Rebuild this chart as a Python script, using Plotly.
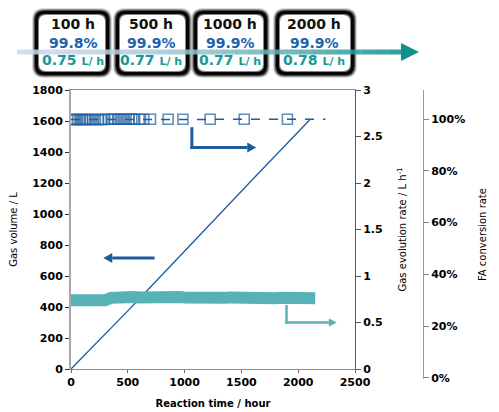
import plotly.graph_objects as go

# ---------------- data ----------------
vol_time = [0, 100, 200, 300, 400, 500, 600, 700, 800, 900, 1000, 1100,
            1200, 1300, 1400, 1500, 1600, 1700, 1800, 1900, 2000, 2100]
vol_L = [0, 74, 148, 222, 298, 375, 452, 530, 607, 684, 762, 839,
         916, 993, 1070, 1147, 1224, 1300, 1377, 1454, 1530, 1606]

conv_time = [0, 20, 40, 60, 80, 100, 120, 140, 165, 190, 215, 240, 265,
             290, 330, 360, 385, 410, 435, 460, 485, 510, 535, 560, 600,
             640, 700, 855, 985, 1225, 1525, 1905, 2240]
conv_frac = [0.998, 0.998, 0.998, 0.998, 0.998, 0.998, 0.998, 0.998, 0.998,
             0.998, 0.998, 0.998, 0.998, 0.998, 0.999, 0.999, 0.999, 0.999,
             0.999, 0.999, 0.999, 0.999, 0.999, 0.999, 0.999, 0.999, 0.999,
             0.999, 0.999, 0.999, 0.999, 0.999, 0.999]

rate_time = [0, 50, 100, 150, 200, 250, 300, 350, 400, 450, 500, 550, 600,
             650, 700, 750, 800, 850, 900, 950, 1000, 1050, 1100, 1150, 1200,
             1250, 1300, 1350, 1400, 1450, 1500, 1550, 1600, 1650, 1700, 1750,
             1800, 1850, 1900, 1950, 2000, 2050, 2100, 2150]
rate_Lh = [0.74, 0.735, 0.735, 0.74, 0.73, 0.73, 0.74, 0.765, 0.775, 0.775,
           0.77, 0.775, 0.77, 0.775, 0.78, 0.775, 0.77, 0.775, 0.77, 0.775,
           0.77, 0.765, 0.765, 0.77, 0.765, 0.77, 0.765, 0.765, 0.77, 0.765,
           0.765, 0.765, 0.77, 0.765, 0.765, 0.76, 0.76, 0.765, 0.76, 0.76,
           0.765, 0.76, 0.76, 0.76]

x_ticks = [0, 500, 1000, 1500, 2000, 2500]
conv_ticks = [0, 0.2, 0.4, 0.6, 0.8, 1.0]

banner_hours = ["100 h", "500 h", "1000 h", "2000 h"]
banner_conv = ["99.8%", "99.9%", "99.9%", "99.9%"]
banner_rate = ["0.75", "0.77", "0.77", "0.78"]

# ---------------- style ----------------
BLUE = "#1F5C9C"
TEAL = "#57B2B6"
FONT = "DejaVu Sans"

OFF = 8  # page body margin
W, H = 491, 404
ML, MR, MT, MB = 63, 10, 82, 33
PW, PH = W - ML - MR, H - MT - MB


def PX(px):  # screen px -> paper x
    return (px - OFF - ML) / PW


def PY(py):  # screen px -> paper y
    return (H - MB - (py - OFF)) / PH


fig = go.Figure()

fig.add_trace(go.Scatter(x=rate_time, y=rate_Lh, yaxis="y2", mode="lines",
                         line=dict(color=TEAL, width=12), showlegend=False))
fig.add_trace(go.Scatter(x=vol_time, y=vol_L, yaxis="y", mode="lines",
                         line=dict(color=BLUE, width=1.3), showlegend=False))
msize = [10] * (len(conv_time) - 1) + [0]
fig.add_trace(go.Scatter(x=conv_time, y=conv_frac, yaxis="y3", mode="lines+markers",
                         line=dict(color=BLUE, width=1.5, dash="dash"),
                         marker=dict(symbol="square-open", size=msize,
                                     color=BLUE, line=dict(width=1.6, color=BLUE)),
                         showlegend=False))

tickfont = dict(family=FONT, size=11, color="black", weight="bold")
titlefont = dict(family=FONT, size=10, color="black")

x_dom_end = PX(355)
y_dom_start = PY(369)

fig.update_layout(
    width=W, height=H, margin=dict(l=ML, r=MR, t=MT, b=MB, autoexpand=False),
    paper_bgcolor="white", plot_bgcolor="rgba(0,0,0,0)", showlegend=False,
    xaxis=dict(domain=[0, x_dom_end], range=[0, 2500], tickvals=x_ticks,
               showgrid=False, zeroline=False, showline=True, linecolor="#8c8c8c",
               linewidth=1, mirror=True, ticks="outside", ticklen=3, tickcolor="#666",
               tickfont=tickfont, anchor="y", automargin=False,
               title=dict(text="<b>Reaction time / hour</b>", font=titlefont, standoff=11)),
    yaxis=dict(domain=[y_dom_start, 1], range=[0, 1800], dtick=200, showgrid=False,
               zeroline=False, showline=True, linecolor="#a8a8a8", linewidth=2,
               ticks="outside", ticklen=4, tickcolor="#333", tickfont=tickfont,
               automargin=False,
               title=dict(text="Gas volume / L", font=titlefont, standoff=14)),
    yaxis2=dict(overlaying="y", side="right", anchor="x", range=[0, 3], dtick=0.5,
                showgrid=False, zeroline=False, showline=True, linecolor="#555",
                linewidth=1, ticks="outside", ticklen=5, tickcolor="#555",
                tickfont=tickfont, automargin=False,
                title=dict(text="Gas evolution rate / L h<sup>-1</sup>", font=titlefont,
                           standoff=17)),
    yaxis3=dict(anchor="free", position=PX(423), side="right", domain=[0, 1],
                range=[-0.004, 1.112], tickvals=conv_ticks, tickformat=".0%",
                showgrid=False, zeroline=False, showline=True, linecolor="#999",
                linewidth=1, ticks="outside", ticklen=5, tickcolor="#888",
                tickfont=tickfont, automargin=False,
                title=dict(text="FA conversion rate", font=titlefont, standoff=14)),
)

shapes = []

# ---- chart arrows (drawn as shapes) ----
XPP = 2500 / 284.0  # data units per pixel, x
YPP = 1800 / 279.0  # data units per pixel, left y


def arrow_h(x_from, x_tip, y, color, width, head_len=9, head_half=5):
    d = 1 if x_tip > x_from else -1
    base = x_tip - d * head_len * XPP
    shapes.append(dict(type="line", xref="x", yref="y", x0=x_from, y0=y, x1=base, y1=y,
                       line=dict(color=color, width=width)))
    shapes.append(dict(type="path", xref="x", yref="y",
                       path=f"M {base},{y + head_half * YPP} L {x_tip},{y} "
                            f"L {base},{y - head_half * YPP} Z",
                       fillcolor=color, line=dict(width=0)))


shapes.append(dict(type="line", xref="x", yref="y", x0=1064, y0=1560, x1=1064,
                   y1=1429 - 1.5 * YPP, line=dict(color=BLUE, width=3)))
arrow_h(1064 - 1.5 * XPP, 1631, 1429, BLUE, 3)
arrow_h(736, 284, 716, BLUE, 3)
shapes.append(dict(type="line", xref="x", yref="y", x0=1897, y0=413, x1=1897,
                   y1=300 - 1.2 * YPP, line=dict(color=TEAL, width=2.5)))
arrow_h(1897 - 1.2 * XPP, 2340, 300, TEAL, 2.5, head_len=8, head_half=4)


# ---- banner boxes ----
def rrect(x0, y0, x1, y1, r):
    rx = r / PW
    ry = r / PH
    X0, X1 = PX(x0), PX(x1)
    Y0, Y1 = PY(y1), PY(y0)  # bottom, top in paper
    return (f"M {X0+rx},{Y0} L {X1-rx},{Y0} Q {X1},{Y0} {X1},{Y0+ry} "
            f"L {X1},{Y1-ry} Q {X1},{Y1} {X1-rx},{Y1} L {X0+rx},{Y1} "
            f"Q {X0},{Y1} {X0},{Y1-ry} L {X0},{Y0+ry} Q {X0},{Y0} {X0+rx},{Y0} Z")


boxes = [(35, 11, 109, 75), (116, 11, 189, 75), (194, 11, 267, 75), (276, 11, 354, 75)]
for (x0, y0, x1, y1) in boxes:
    for e, op in [(3, 0.15), (2, 0.3), (1, 0.55), (0, 0.9)]:
        shapes.append(dict(type="path", xref="paper", yref="paper",
                           path=rrect(x0 - e, y0 - e, x1 + e, y1 + e, 9 + e),
                           fillcolor=f"rgba(0,0,0,{op})", line=dict(width=0), layer="above"))
    for e, col in [(3, "rgba(255,255,255,0.5)"), (4, "white")]:
        shapes.append(dict(type="path", xref="paper", yref="paper",
                           path=rrect(x0 + e, y0 + e, x1 - e, y1 - e, 7),
                           fillcolor=col, line=dict(width=0), layer="above"))

# gradient arrow
c0 = (200, 216, 236)
c1 = (12, 145, 140)
nseg = 30
xa, xb, ya = 17, 403, 52
for i in range(nseg):
    t = i / (nseg - 1)
    tt = min(1.0, t ** 1.6)
    col = tuple(int(c0[k] + (c1[k] - c0[k]) * tt) for k in range(3))
    sx0 = xa + (xb - xa) * i / nseg
    sx1 = xa + (xb - xa) * (i + 1) / nseg + 0.5
    shapes.append(dict(type="line", xref="paper", yref="paper",
                       x0=PX(sx0), y0=PY(ya), x1=PX(sx1), y1=PY(ya),
                       line=dict(color=f"rgba({col[0]},{col[1]},{col[2]},0.85)", width=5),
                       layer="above"))
shapes.append(dict(type="path", xref="paper", yref="paper",
                   path=f"M {PX(401)},{PY(43)} L {PX(419)},{PY(52)} L {PX(401)},{PY(61)} Z",
                   fillcolor="rgb(12,145,140)", line=dict(width=0), layer="above"))

annotations = []
centers = [73, 151, 230, 314]
for cx, hh, cv, rt in zip(centers, banner_hours, banner_conv, banner_rate):
    annotations.append(dict(x=PX(cx), y=PY(24), xref="paper", yref="paper",
                            xanchor="center", yanchor="middle",
                            text=f"<b>{hh}</b>", showarrow=False,
                            font=dict(family=FONT, size=14, color="#111")))
    annotations.append(dict(x=PX(cx), y=PY(43), xref="paper", yref="paper",
                            xanchor="center", yanchor="middle",
                            text=f"<b>{cv}</b>", showarrow=False,
                            font=dict(family=FONT, size=14, color="#2262AE")))
    annotations.append(dict(x=PX(cx), y=PY(60), xref="paper", yref="paper",
                            xanchor="center", yanchor="middle",
                            text=f"<b>{rt} <span style='font-size:11px'>L/ h</span></b>",
                            showarrow=False,
                            font=dict(family=FONT, size=14, color="#17999A")))

fig.update_layout(shapes=shapes, annotations=annotations)
fig.write_html("out.html")
